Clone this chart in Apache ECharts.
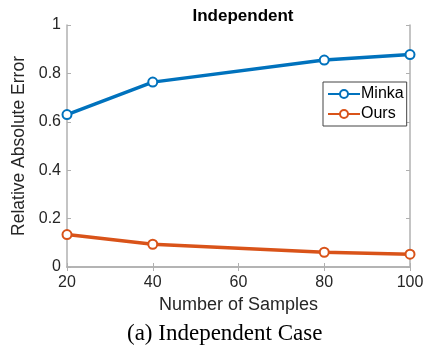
<!DOCTYPE html>
<html><head><meta charset="utf-8">
<script src="https://cdn.jsdelivr.net/npm/echarts@6/dist/echarts.min.js"></script>
<style>html,body{margin:0;padding:0;background:#fff}#c{width:427px;height:351px}</style>
</head><body><div id="c"></div>
<script>
const samples = [20, 40, 80, 100];
const minka = [0.630, 0.764, 0.855, 0.878];
const ours = [0.134, 0.094, 0.061, 0.053];
const xTicks = [20, 40, 60, 80, 100];
const yTicks = [0, 0.2, 0.4, 0.6, 0.8, 1];

const chart = echarts.init(document.getElementById('c'));
const axisCol = '#b0b0b0';
const txt = '#262626';
const font = 'Liberation Sans, Arial, sans-serif';
const hiddenAxis = {
  axisLine:{show:true,lineStyle:{color:axisCol,width:1.5}},
  axisTick:{show:true,inside:true,length:4,lineStyle:{color:axisCol}},
  axisLabel:{show:false}, splitLine:{show:false}
};
chart.setOption({
  animation:false,
  title:{text:'Independent',left:238,textAlign:'center',top:3,
    textStyle:{fontFamily:font,fontSize:17,fontWeight:'bold',color:'#000'}},
  grid:{left:67,right:17,top:25,bottom:84},
  legend:{left:323,top:82,orient:'vertical',itemWidth:32,itemHeight:10,itemGap:4,
    borderColor:'#444',borderWidth:1,padding:[4,3,4,4],backgroundColor:'#fff',
    textStyle:{fontFamily:font,fontSize:16,color:'#000',padding:[0,0,0,-4]},
    data:['Minka','Ours']},
  xAxis:[{type:'value',min:20,max:100,interval:20,
    name:'Number of Samples',nameLocation:'middle',nameGap:29,
    nameTextStyle:{fontFamily:font,fontSize:18,color:txt},
    axisLine:{lineStyle:{color:axisCol,width:1.5}},
    axisTick:{inside:true,length:4,lineStyle:{color:axisCol}},
    axisLabel:{fontFamily:font,fontSize:16,color:txt,margin:8,
      formatter:v=>xTicks.includes(v)?String(v):''},
    splitLine:{show:false}},
    Object.assign({type:'value',min:20,max:100,interval:20,position:'top'},hiddenAxis)],
  yAxis:[{type:'value',min:0,max:1,interval:0.2,
    name:'Relative Absolute Error',nameLocation:'middle',nameGap:27,
    nameTextStyle:{fontFamily:font,fontSize:17.5,color:txt},
    axisLine:{show:true,lineStyle:{color:axisCol,width:1.5}},
    axisTick:{show:true,inside:true,length:4,lineStyle:{color:axisCol}},
    axisLabel:{fontFamily:font,fontSize:16,color:txt,margin:6,
      formatter:v=>{const t=yTicks.find(k=>Math.abs(k-v)<1e-9);return t===undefined?'':String(+t.toFixed(1));}},
    splitLine:{show:false}},
    Object.assign({type:'value',min:0,max:1,interval:0.2,position:'right'},hiddenAxis)],
  series:[
    {name:'Minka',type:'line',data:samples.map((s,i)=>[s,minka[i]]),
      color:'#0072BD',lineStyle:{width:3.5},symbol:'emptyCircle',symbolSize:9,
      itemStyle:{borderWidth:2.5,color:'#0072BD',borderColor:'#0072BD'}},
    {name:'Ours',type:'line',data:samples.map((s,i)=>[s,ours[i]]),
      color:'#D95319',lineStyle:{width:3.5},symbol:'emptyCircle',symbolSize:9,
      itemStyle:{borderWidth:2.5,color:'#D95319',borderColor:'#D95319'}}
  ],
  graphic:[{type:'text',left:127,top:322,
    style:{text:'(a) Independent Case',font:'23px "Liberation Serif", "Times New Roman", serif',fill:'#000'}}]
});
</script></body></html>
